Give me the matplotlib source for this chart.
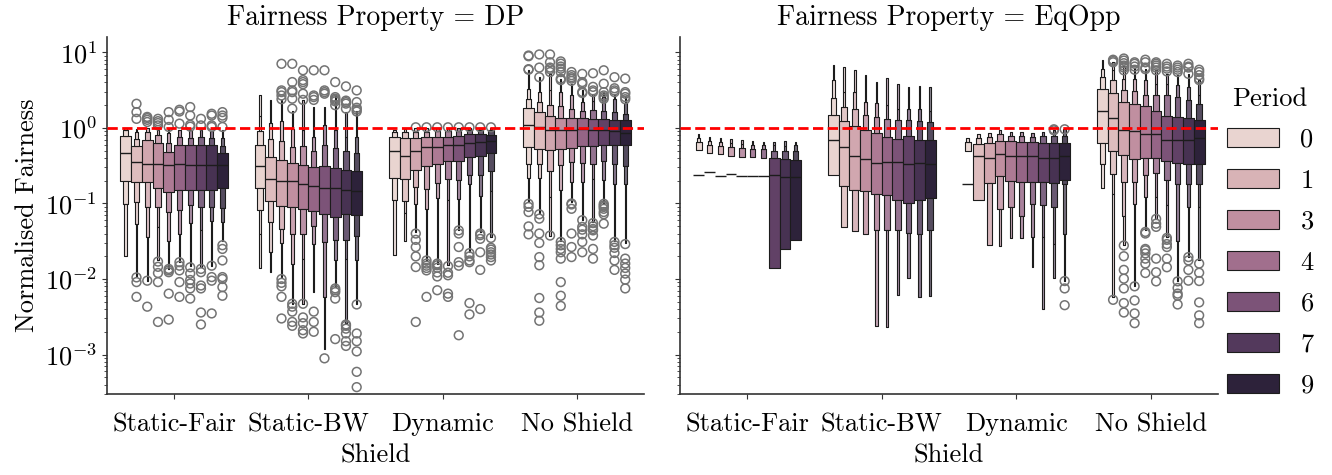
import numpy as np
import matplotlib
matplotlib.use("Agg")
import matplotlib.pyplot as plt
from matplotlib.patches import Rectangle, Patch
from matplotlib.collections import PatchCollection
import seaborn as sns
import colorsys

plt.rcParams['font.family'] = ['cmr10', 'DejaVu Serif']
plt.rcParams['mathtext.fontset'] = 'cm'
plt.rcParams['axes.formatter.use_mathtext'] = True
plt.rcParams['axes.unicode_minus'] = False

properties = ['DP', 'EqOpp']
shields = ['Static-Fair', 'Static-BW', 'Dynamic', 'No Shield']
periods = list(range(10))
legend_levels = [0, 1.5, 3, 4.5, 6, 7.5, 9]

# letter values: lo = [q25, lower levels...], hi = [q75, upper levels...]
# a value of 0 means the level sits at zero (not drawn on the log axis)

# ---- DP ----
dp_fair_med = [0.46, 0.35, 0.33, 0.335, 0.32, 0.33, 0.325, 0.325, 0.32, 0.32]
dp_fair_lo = [[0.20, 0.099, 0.020], [0.19, 0.104, 0.054, 0.011], [0.19, 0.089, 0.036, 0.0095],
              [0.161, 0.091, 0.049, 0.0176], [0.144, 0.077, 0.032, 0.0136], [0.149, 0.083, 0.040, 0.0167],
              [0.152, 0.094, 0.055, 0.015], [0.152, 0.089, 0.045, 0.0143], [0.152, 0.091, 0.058, 0.015],
              [0.161, 0.087, 0.057, 0.032]]
dp_fair_hi = [[0.79, 0.95, 1.0], [0.57, 0.72, 0.88, 0.955], [0.70, 0.88, 1.0], [0.64, 0.81, 0.95],
              [0.48, 0.63, 0.85, 0.97], [0.60, 0.76, 0.93], [0.60, 0.74, 0.95], [0.60, 0.76, 0.93],
              [0.60, 0.74, 0.90], [0.47, 0.57, 0.73, 0.93]]
dp_fair_out = [[], [2.09, 1.62, 1.32, 0.0105, 0.0091, 0.0058], [1.4, 1.35, 1.28, 1.2, 0.0095, 0.0043],
               [1.32, 1.23, 1.16, 1.08, 0.017, 0.0145, 0.012, 0.0091, 0.0027],
               [1.62, 1.28, 1.03, 0.0136, 0.013, 0.0123, 0.0064, 0.0029],
               [1.74, 1.65, 1.14, 0.0167, 0.015, 0.013, 0.0091, 0.0058],
               [1.89, 1.46, 1.10, 1.04, 0.0143, 0.0118, 0.0097, 0.0087, 0.0075, 0.0055],
               [1.32, 1.08, 0.0136, 0.0123, 0.0082, 0.0075, 0.0036, 0.0025],
               [1.54, 1.46, 1.08, 1.03, 0.015, 0.0106, 0.0095, 0.0035],
               [1.62, 1.46, 1.36, 1.03, 0.028, 0.025, 0.0176, 0.0106, 0.010, 0.0078, 0.006]]

dp_bw_med = [0.31, 0.21, 0.20, 0.198, 0.182, 0.17, 0.161, 0.161, 0.152, 0.146]
dp_bw_lo = [[0.161, 0.081, 0.039, 0.0139], [0.107, 0.057, 0.0226, 0.0123], [0.092, 0.046, 0.030, 0.0106],
            [0.091, 0.040, 0.016, 0.0047], [0.085, 0.040, 0.0186, 0.0047], [0.079, 0.0497, 0.029, 0.0067],
            [0.073, 0.031, 0.0058, 0.0012], [0.067, 0.033, 0.0176, 0.0078], [0.073, 0.033, 0.0186, 0.0026],
            [0.071, 0.0376, 0.018, 0.0046]]
dp_bw_hi = [[0.60, 0.90, 1.46, 2.75], [0.41, 0.72, 1.16, 2.37], [0.38, 0.68, 1.23, 2.31],
            [0.346, 0.56, 0.97, 1.70], [0.325, 0.57, 0.93, 2.31], [0.30, 0.49, 0.76, 1.88],
            [0.31, 0.59, 1.1, 1.88], [0.296, 0.55, 0.93, 2.7], [0.28, 0.50, 0.77, 1.62],
            [0.27, 0.46, 0.76, 1.7]]
dp_bw_out = [[], [], [7.07, 3.14, 2.98, 2.69, 2.4, 0.01, 0.0089, 0.008, 0.0058, 0.003],
             [7.07, 4.05, 3.14, 2.98, 2.44, 1.8, 0.0047, 0.0043, 0.0037, 0.0027, 0.0024],
             [5.8, 4.3, 4.05, 3.8, 2.84, 2.35, 0.0047, 0.0031, 0.0026, 0.0021, 0.0019],
             [5.8, 2.69, 2.56, 2.35, 0.0037, 0.0027, 0.002],
             [5.8, 3.14, 2.98, 2.84, 0.00089],
             [4.05, 2.56, 2.44, 2.35, 2.25, 2.0, 0.0075, 0.0071, 0.0067, 0.0055, 0.0016],
             [3.55, 2.3, 2.2, 2.1, 1.8, 0.0025, 0.0024, 0.0022, 0.0019, 0.0015, 0.0013],
             [3.14, 2.2, 1.85, 1.75, 1.65, 0.0046, 0.0019, 0.0015, 0.0011, 0.00059, 0.00037]]

dp_dyn_med = [0.49, 0.43, 0.49, 0.56, 0.56, 0.59, 0.60, 0.63, 0.65, 0.68]
dp_dyn_lo = [[0.22, 0.11, 0.021], [0.21, 0.107, 0.074, 0.032], [0.28, 0.164, 0.097, 0.042],
             [0.31, 0.156, 0.085, 0.0176], [0.33, 0.186, 0.119, 0.016], [0.36, 0.21, 0.11, 0.0152],
             [0.37, 0.205, 0.115, 0.045], [0.41, 0.24, 0.18, 0.0226], [0.42, 0.24, 0.127, 0.042],
             [0.46, 0.27, 0.146, 0.036]]
dp_dyn_hi = [[0.77, 0.88, 0.95], [0.74, 0.88, 0.955], [0.74, 0.88, 1.0], [0.76, 0.88, 1.0],
             [0.77, 0.90, 1.0], [0.77, 0.90, 1.0], [0.79, 0.90, 1.0], [0.82, 0.93, 1.0],
             [0.84, 0.93, 1.0], [0.81, 0.93, 1.0]]
dp_dyn_out = [[], [], [1.02, 0.04, 0.033, 0.0265, 0.0199, 0.0144, 0.0027],
              [1.02, 0.0176, 0.016, 0.015, 0.014, 0.013, 0.0058],
              [1.02, 0.016, 0.0152, 0.0141, 0.0122, 0.0108, 0.0071],
              [1.02, 0.0148, 0.0121, 0.0112, 0.0064, 0.0058],
              [1.02, 0.044, 0.04, 0.0265, 0.0167, 0.015, 0.0018],
              [1.02, 0.022, 0.0199, 0.0176, 0.0167, 0.0048, 0.0034],
              [1.02, 0.04, 0.038, 0.034, 0.0226, 0.0132, 0.004],
              [1.02, 0.035, 0.0259, 0.0245, 0.0226, 0.0211, 0.0195, 0.0176]]

dp_none_med = [1.10, 1.03, 0.95, 0.93, 0.95, 0.965, 0.93, 0.93, 0.91, 0.855]
dp_none_lo = [[0.557, 0.335, 0.22, 0.104], [0.53, 0.335, 0.22, 0.074], [0.51, 0.268, 0.121, 0.0376],
              [0.53, 0.32, 0.149, 0.032], [0.55, 0.35, 0.19, 0.104], [0.57, 0.345, 0.19, 0.061],
              [0.57, 0.335, 0.21, 0.057], [0.59, 0.364, 0.205, 0.099], [0.59, 0.335, 0.18, 0.032],
              [0.59, 0.31, 0.18, 0.030]]
dp_none_hi = [[1.83, 2.43, 3.3, 5.9], [1.62, 2.2, 2.98, 4.7], [1.46, 1.99, 3.14, 5.2],
              [1.36, 1.93, 3.0, 4.5], [1.36, 1.79, 2.69, 3.8], [1.36, 1.7, 2.2, 3.2],
              [1.32, 1.74, 2.3, 2.84], [1.32, 1.7, 2.56, 2.98], [1.28, 1.62, 2.43, 2.69],
              [1.26, 1.54, 2.13, 2.56]]
dp_none_out = [[9.1, 8.9, 6.0, 5.9, 0.099, 0.09, 0.077, 0.0497, 0.039],
               [9.4, 6.3, 4.7, 0.072, 0.063, 0.04, 0.03, 0.0195, 0.0152, 0.0056, 0.0036, 0.0028],
               [9.4, 7.4, 6.3, 6.0, 5.5, 0.0376],
               [7.6, 7.1, 6.5, 6.1, 5.5, 4.5, 4.3, 0.031, 0.028, 0.025, 0.0226, 0.0186, 0.0091, 0.006, 0.0044],
               [5.5, 5.0, 4.7, 4.5, 4.2, 0.1, 0.097, 0.085, 0.04, 0.0265, 0.0195],
               [5.2, 4.05, 3.85, 3.0, 2.9, 0.06, 0.049, 0.045, 0.039, 0.031, 0.0226],
               [5.3, 3.5, 3.14, 2.98, 0.055, 0.05, 0.046, 0.044, 0.0376, 0.025, 0.0186],
               [5.8, 3.85, 2.98, 2.69, 2.56, 2.43, 0.099, 0.094, 0.09, 0.085, 0.077, 0.072, 0.054],
               [4.7, 3.35, 3.14, 2.98, 0.031, 0.028, 0.0259, 0.0221, 0.0176, 0.0132],
               [4.5, 2.98, 2.84, 2.56, 2.4, 0.029, 0.0186, 0.016, 0.014, 0.0118, 0.0098, 0.0075]]

# ---- EqOpp ----
eo_fair_med = [0.24, 0.26, 0.232, 0.245, 0.228, 0.23, 0.232, 0.235, 0.225, 0.225]
eo_fair_lo = [[0], [0], [0], [0], [0], [0], [0], [0.014], [0.0247], [0.033]]
eo_fair_hi = [[0.514, 0.65, 0.74, 0.82], [0.47, 0.60, 0.68, 0.77], [0.45, 0.57, 0.65, 0.74],
              [0.42, 0.56, 0.64, 0.72], [0.41, 0.54, 0.62, 0.70], [0.41, 0.53, 0.60, 0.68],
              [0.40, 0.52, 0.59, 0.65], [0.40, 0.50, 0.59, 0.66], [0.39, 0.50, 0.58, 0.67],
              [0.38, 0.50, 0.59, 0.65]]
eo_fair_out = [[] for _ in periods]

eo_bw_med = [0.70, 0.56, 0.42, 0.39, 0.34, 0.35, 0.35, 0.335, 0.345, 0.335]
eo_bw_lo = [[0.24, 0], [0.168, 0.049, 0], [0.149, 0.043, 0], [0.146, 0.040, 0],
            [0.134, 0.045, 0.0024], [0.13, 0.045, 0.0023], [0.11, 0.045, 0.0062],
            [0.102, 0.041, 0.0104], [0.112, 0.040, 0.0058], [0.119, 0.044, 0.006]]
eo_bw_hi = [[1.47, 2.48, 4.35, 6.9], [1.23, 1.89, 2.98, 6.4], [1.05, 1.79, 2.98, 5.8],
            [0.93, 1.49, 2.2, 4.95], [0.86, 1.39, 2.13, 4.05], [0.76, 1.32, 2.04, 4.6],
            [0.72, 1.28, 1.79, 3.8], [0.78, 1.26, 1.79, 3.47], [0.70, 1.23, 1.79, 3.55],
            [0.69, 1.19, 1.7, 3.47]]
eo_bw_out = [[] for _ in periods]

eo_dyn_med = [0.18, 0.42, 0.40, 0.45, 0.42, 0.42, 0.42, 0.40, 0.40, 0.42]
eo_dyn_lo = [[0], [0.11, 0], [0.186, 0.0278], [0.23, 0.085, 0.027], [0.20, 0.089, 0.035],
             [0.19, 0.069, 0.035], [0.19, 0.097, 0.036, 0.0144], [0.19, 0.094, 0.036, 0.004],
             [0.186, 0.089, 0.029, 0.0104], [0.206, 0.18, 0.039, 0.0095]]
eo_dyn_hi = [[0.50, 0.65, 0.74], [0.62, 0.74, 0.84], [0.63, 0.75, 0.85], [0.68, 0.82, 0.93],
             [0.67, 0.78, 0.88], [0.66, 0.78, 0.88], [0.65, 0.77, 0.87], [0.64, 0.78, 0.88],
             [0.64, 0.78, 0.93], [0.64, 0.78, 0.96]]
eo_dyn_out = [[], [], [], [], [], [], [], [], [0.96, 0.93], [0.96, 0.0094, 0.0075, 0.0045]]

eo_none_med = [1.67, 1.35, 0.93, 0.90, 0.84, 0.82, 0.70, 0.70, 0.70, 0.73]
eo_none_lo = [[0.64, 0.335, 0.16], [0.50, 0.247, 0.134, 0.0058], [0.445, 0.19, 0.069, 0.0278],
              [0.39, 0.19, 0.099, 0.0082], [0.40, 0.24, 0.121, 0.044], [0.40, 0.25, 0.121, 0.0625],
              [0.363, 0.205, 0.094, 0.036], [0.345, 0.18, 0.032, 0.0095], [0.33, 0.18, 0.089, 0.0195],
              [0.33, 0.18, 0.089, 0.0176]]
eo_none_hi = [[3.3, 4.7, 6.05, 8.0], [2.9, 4.25, 5.8, 7.4], [2.2, 3.14, 4.5, 6.7],
              [2.05, 3.07, 4.5, 6.2], [1.93, 2.77, 4.3, 6.1], [1.7, 2.69, 3.8, 5.9],
              [1.46, 2.69, 3.8, 5.2], [1.39, 2.56, 3.65, 5.0], [1.36, 2.31, 3.47, 5.2],
              [1.26, 2.09, 2.69, 4.3]]
eo_none_out = [[], [8.0, 7.7, 7.4, 0.0053],
               [8.3, 7.8, 7.2, 6.7, 6.3, 5.8, 0.0278, 0.02, 0.0132, 0.0101, 0.0075, 0.0048, 0.0036],
               [7.4, 7.07, 6.5, 5.9, 0.008, 0.0052, 0.0035, 0.0026],
               [8.0, 7.4, 6.3, 6.0, 0.042, 0.040, 0.025, 0.024, 0.0218, 0.0186, 0.016, 0.012],
               [7.4, 7.07, 6.7, 6.3, 5.8, 0.0625, 0.054, 0.049, 0.0186, 0.0123, 0.0093],
               [7.07, 6.5, 6.1, 5.6, 0.035, 0.033, 0.029, 0.0265, 0.0186, 0.0143],
               [6.7, 6.3, 5.9, 5.5, 0.0093, 0.0076, 0.0064, 0.006, 0.0046],
               [7.07, 6.5, 6.3, 5.2, 0.0195, 0.0176, 0.0132, 0.0095],
               [5.9, 5.5, 5.0, 4.5, 4.3, 0.016, 0.0121, 0.0094, 0.0049, 0.0033, 0.0026]]

groups = {
    'DP': [(dp_fair_med, dp_fair_lo, dp_fair_hi, dp_fair_out),
           (dp_bw_med, dp_bw_lo, dp_bw_hi, dp_bw_out),
           (dp_dyn_med, dp_dyn_lo, dp_dyn_hi, dp_dyn_out),
           (dp_none_med, dp_none_lo, dp_none_hi, dp_none_out)],
    'EqOpp': [(eo_fair_med, eo_fair_lo, eo_fair_hi, eo_fair_out),
              (eo_bw_med, eo_bw_lo, eo_bw_hi, eo_bw_out),
              (eo_dyn_med, eo_dyn_lo, eo_dyn_hi, eo_dyn_out),
              (eo_none_med, eo_none_lo, eo_none_hi, eo_none_out)],
}

# colours like seaborn's numeric hue mapping
hue_cmap = sns.color_palette("ch:", as_cmap=True)
norm = plt.Normalize(min(periods), max(periods))


def hue_color(v):
    return sns.desaturate(hue_cmap(norm(v)), 0.75)


lum = min(colorsys.rgb_to_hls(*hue_color(p))[1] for p in periods) * 0.6
line_color = (lum, lum, lum)
lw = 0.8


def draw_boxen(ax, x, w, color, med, lo, hi, out):
    cmap = sns.light_palette(color, as_cmap=True)
    segs = [(lo[0], hi[0], 0)]
    for j in range(1, len(lo)):
        segs.append((lo[j], lo[j - 1], j))
    for j in range(1, len(hi)):
        segs.append((hi[j - 1], hi[j], j))
    rects, cols = [], []
    for a, b, j in segs:
        if a <= 0:
            continue
        bw = w * 0.5 ** j
        rects.append(Rectangle((x - bw / 2, a), bw, b - a))
        cols.append(cmap(2 ** (-j / 3)))
    ax.add_collection(PatchCollection(rects, facecolors=cols, edgecolors=[line_color],
                                      linewidths=lw))
    ax.plot([x - w / 2, x + w / 2], [med, med], color=line_color, lw=1.25 * lw,
            solid_capstyle='butt')
    if len(out):
        ax.scatter(np.full(len(out), x), out, s=40, facecolors='none', edgecolors='0.45',
                   linewidths=1.1, zorder=1)


fig = plt.figure(figsize=(13.32, 4.75), dpi=100)
ax1 = fig.add_axes([0.0803, 0.1705, 0.4032, 0.7516])
ax2 = fig.add_axes([0.5105, 0.1705, 0.4039, 0.7516], sharey=ax1)

n = len(periods)
w = 0.8 / n
for ax, prop in zip([ax1, ax2], properties):
    for si, grp in enumerate(groups[prop]):
        med, lo, hi, out = grp
        for pi, p in enumerate(periods):
            x = si - 0.4 + w / 2 + pi * w
            draw_boxen(ax, x, w, hue_color(p), med[pi], lo[pi], hi[pi], out[pi])
    ax.axhline(1.0, color='red', ls='--', lw=2, zorder=3)
    ax.set_yscale('log')
    ax.set_ylim(3e-4, 16)
    ax.set_xlim(-0.5, 3.5)
    ax.set_xticks(range(len(shields)))
    ax.set_xticklabels(shields)
    ax.set_xlabel('Shield', fontsize=19, labelpad=5)
    ax.set_title(f'Fairness Property = {prop}', fontsize=20, pad=9)
    ax.tick_params(labelsize=19)
    ax.tick_params(axis='x', pad=10)
    for s in ['top', 'right']:
        ax.spines[s].set_visible(False)
    for s in ['left', 'bottom']:
        ax.spines[s].set_color('0.2')
        ax.spines[s].set_linewidth(1.2)
    ax.tick_params(which='both', color='0.2')

ax1.set_ylabel('Normalised Fairness', fontsize=19)
plt.setp(ax2.get_yticklabels(), visible=False)

handles = [Patch(facecolor=hue_color(v), edgecolor=line_color, linewidth=lw) for v in legend_levels]
labels = [str(int(v)) for v in legend_levels]
fig.legend(handles, labels, title='Period', loc='center left', bbox_to_anchor=(0.903, 0.49),
           frameon=False, fontsize=19, title_fontsize=19, handlelength=2.0, handleheight=0.75,
           labelspacing=0.65)

fig.savefig('out.png', dpi=100)
